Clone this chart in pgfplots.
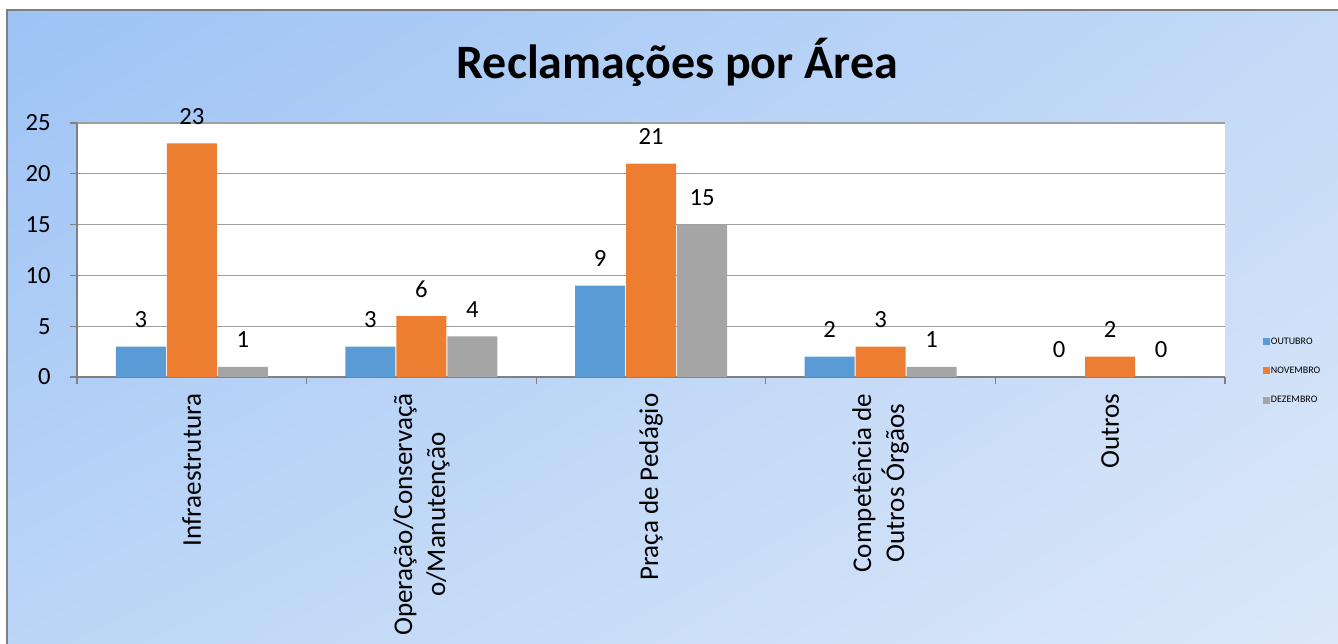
\documentclass[border=0pt]{standalone}
\usepackage{fontspec}
\setmainfont{Carlito}
\usepackage{pgfplots}
\pgfplotsset{compat=1.18}
\usetikzlibrary{shadings}
\definecolor{cOut}{HTML}{5B9BD5}
\definecolor{cNov}{HTML}{ED7D31}
\definecolor{cDez}{HTML}{A5A5A5}
\definecolor{bgUL}{RGB}{157,195,245}
\definecolor{bgUR}{RGB}{196,218,247}
\definecolor{bgLL}{RGB}{188,214,247}
\definecolor{bgLR}{RGB}{221,232,249}
\begin{document}
\begin{tikzpicture}
\useasboundingbox (0,0) rectangle (1003.5pt,-482.25pt);
\begin{scope}
\clip (0,0) rectangle (1003.5pt,-482.25pt);
\shade[upper left=bgUL, upper right=bgUR, lower left=bgLL, lower right=bgLR] (5.25pt,-7.5pt) rectangle (1010pt,-490pt);
\draw[draw=gray, line width=1.2pt] (5.25pt,-490pt) -- (5.25pt,-7.5pt) -- (1010pt,-7.5pt);
\end{scope}
\node[font=\fontsize{36}{40}\selectfont\bfseries] at (508pt,-46.5pt) {Reclamações por Área};
\begin{axis}[
  at={(57.75pt,-282.75pt)}, anchor=south west,
  scale only axis, width=861pt, height=190.5pt,
  ybar=0.75pt, bar width=37.5pt,
  xmin=-0.5, xmax=4.5, ymin=0, ymax=25,
  ytick={0,5,10,15,20,25},
  xtick={0,1,2,3,4},
  xticklabels={Infraestrutura,{Operação/Conservaçã\\o/Manutenção},Praça de Pedágio,{Competência de\\Outros Órgãos},Outros},
  minor xtick={-0.5,0.5,1.5,2.5,3.5,4.5},
  axis lines*=left,
  axis line style={draw=gray, line width=0.8pt, -},
  tick align=outside,
  major tick length=5.25pt, minor tick length=5.25pt,
  tick style={draw=gray, line width=0.8pt},
  major x tick style={draw=none},
  ymajorgrids, grid style={draw=gray!75, line width=0.9pt},
  axis background/.style={fill=white},
  yticklabel style={font=\fontsize{18.5}{24.5}\selectfont},
  yticklabel shift=11pt,
  xticklabel style={font=\fontsize{20.3}{24.75}\selectfont, rotate=90, anchor=east, align=center},
  xticklabel shift=3.75pt,
  /pgf/number format/assume math mode=true,
  nodes near coords,
  every node near coord/.append style={font=\fontsize{18.5}{22}\selectfont, anchor=center, yshift=20.25pt, text=black},
  legend style={at={(1.029,0.024)}, anchor=west, draw=none, fill=none, font=\fontsize{7.5}{9}\selectfont, row sep=13.5pt, nodes={inner sep=1pt}},
  legend cell align=left,
  sq/.style={legend image code/.code={\fill[##1] (0pt,-2.6pt) rectangle (5.25pt,2.6pt);}},
]
\addplot[fill=cOut, draw=none, sq] coordinates {(0,3) (1,3) (2,9) (3,2) (4,0)};
\addplot[fill=cNov, draw=none, sq] coordinates {(0,23) (1,6) (2,21) (3,3) (4,2)};
\addplot[fill=cDez, draw=none, sq] coordinates {(0,1) (1,4) (2,15) (3,1) (4,0)};
\legend{OUTUBRO,NOVEMBRO,DEZEMBRO}
\end{axis}
\end{tikzpicture}
\end{document}
